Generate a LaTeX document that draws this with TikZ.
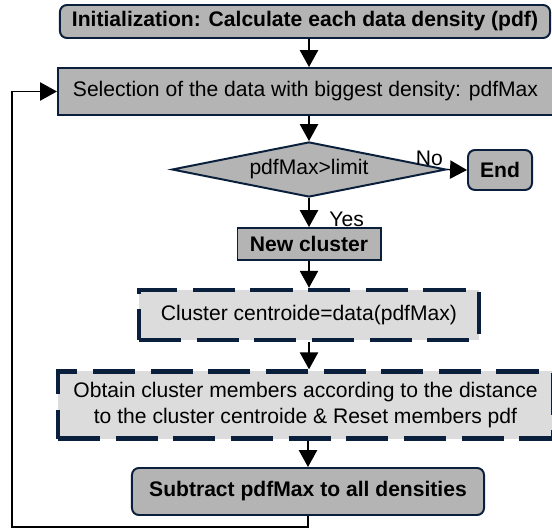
\documentclass[tikz,border=0pt]{standalone}
\usepackage{fontspec}
\setmainfont{Liberation Sans}
\usepackage{tikz}
\usetikzlibrary{shapes.geometric,arrows.meta}
\definecolor{navy}{HTML}{0A1F3C}
\definecolor{darkfill}{HTML}{B4B4B4}
\definecolor{lightfill}{HTML}{DCDCDC}

\begin{document}
\begin{tikzpicture}[x=0.025cm,y=-0.025cm,
  every node/.style={font=\fontsize{15}{18.5}\selectfont},
  boxed/.style={draw=navy,line width=1.4pt,fill=darkfill,inner sep=0pt,align=center},
  roundbox/.style={boxed,rounded corners=5pt},
  dashbox/.style={draw=navy,line width=3.2pt,dash pattern=on 30pt off 11pt,fill=lightfill,inner sep=0pt,align=center},
  decision/.style={boxed,diamond,aspect=5},
  flow/.style={line width=1pt,-{Triangle[length=12pt 0,width=13pt 0]}}]
  \useasboundingbox (0,0) rectangle (552,530);
  \node[roundbox,minimum width=12.25cm,minimum height=0.825cm](init) at (305,21.5){\textbf{Initialization: Calculate each data density (pdf)}};
  \node[boxed,minimum width=12.375cm,minimum height=1.175cm](sel) at (305.5,91.5){Selection of the data with biggest density: pdfMax};
  \node[decision,minimum width=6.85cm,minimum height=1.375cm](dec) at (309,169.5){pdfMax>limit};
  \node[roundbox,minimum width=1.6cm,minimum height=1cm](end) at (500,170){\textbf{End}};
  \node[boxed,minimum width=3.575cm,minimum height=0.8cm](newc) at (309,244){\textbf{New cluster}};
  \node[dashbox,minimum width=8.5cm,minimum height=1.25cm](cent) at (309,315){Cluster centroide=data(pdfMax)};
  \node[dashbox,minimum width=12.375cm,minimum height=1.675cm](memb) at (305.5,405){Obtain cluster members according to the distance\\to the cluster centroide \& Reset members pdf};
  \node[roundbox,minimum width=8.8cm,minimum height=1.175cm](subt) at (308,491.5){\textbf{Subtract pdfMax to all densities}};
  \coordinate(back) at (12,527);
  \draw[flow] (init.south -| dec.north)--(sel.north -| dec.north);
  \draw[flow] (sel.south -| dec.north)--(dec.north);
  \draw[flow] (dec.east)--node[pos=0,anchor=south east,inner sep=2.5pt]{No}(end.west);
  \draw[flow] (dec.south)--node[right,pos=0.72,xshift=14pt,inner sep=0pt]{Yes}(newc.north);
  \draw[flow] (newc.south)--(cent.north);
  \draw[flow] (cent.south)--(memb.north -| cent.south);
  \draw[flow] (memb.south -| subt.north)--(subt.north);
  \draw[flow,line width=0.9pt] (subt.south) |- (back) |- (sel.west);
\end{tikzpicture}
\end{document}
